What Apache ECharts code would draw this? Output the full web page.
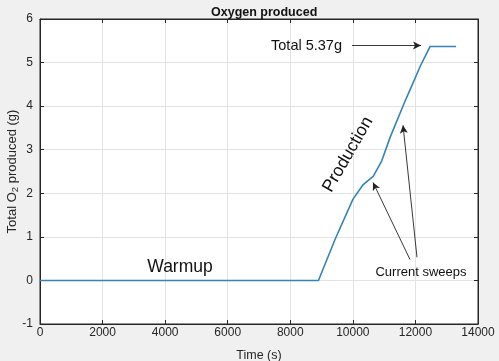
<!DOCTYPE html>
<html>
<head>
<meta charset="utf-8">
<script src="https://cdn.jsdelivr.net/npm/echarts@6/dist/echarts.min.js"></script>
<style>html,body{margin:0;padding:0;background:#f0f0f0;}#c{width:499px;height:361px;}</style>
</head>
<body>
<div id="c"></div>
<script>
var timeS = [0, 8900, 9430, 10000, 10330, 10650, 10920, 11200, 11660, 11830, 12150, 12470, 13300];
var oxygenG = [0, 0, 0.94, 1.86, 2.2, 2.39, 2.74, 3.3, 4.1, 4.38, 4.91, 5.37, 5.37];
var xTicks = [0, 2000, 4000, 6000, 8000, 10000, 12000, 14000];
var yTicks = [-1, 0, 1, 2, 3, 4, 5, 6];

var font = 'Liberation Sans, Arial, sans-serif';
var ink = '#262626';
var chart = echarts.init(document.getElementById('c'));
function axisCommon() {
  return {
    axisLine: {show: true, onZero: false, lineStyle: {color: ink, width: 1}},
    axisTick: {show: true, inside: true, length: 4, lineStyle: {color: ink}}
  };
}
chart.setOption({
  backgroundColor: '#f0f0f0',
  animation: false,
  title: {text: 'Oxygen produced', left: 206, top: 1,
    textStyle: {fontFamily: font, fontSize: 12.5, fontWeight: 'bold', color: '#111'}},
  grid: {left: 40, right: 21, top: 19, bottom: 37, containLabel: false, outerBoundsMode: 'none',
    show: true, backgroundColor: '#fff', borderColor: ink, borderWidth: 1},
  xAxis: [Object.assign(axisCommon(), {type: 'value', min: xTicks[0], max: xTicks[xTicks.length-1], interval: 2000,
    name: 'Time (s)', nameLocation: 'middle', nameGap: 25, nameMoveOverlap: false,
    nameTextStyle: {fontFamily: font, fontSize: 12.5, color: ink},
    axisLabel: {fontFamily: font, fontSize: 12, color: ink, margin: 3, formatter: function (v) { return String(v); }},
    splitLine: {show: true, lineStyle: {color: '#e3e3e3'}}}),
    Object.assign(axisCommon(), {type: 'value', position: 'top', min: 0, max: 14000, interval: 2000,
    axisLabel: {show: false}, splitLine: {show: false}})],
  yAxis: [Object.assign(axisCommon(), {type: 'value', min: yTicks[0], max: yTicks[yTicks.length-1], interval: 1,
    name: '{a|Total O}{s|2}{a| produced (g)}', nameLocation: 'middle', nameGap: 20, nameRotate: 90, nameMoveOverlap: false,
    nameTextStyle: {rich: {a: {fontFamily: font, fontSize: 13, color: ink, lineHeight: 16},
      s: {fontFamily: font, fontSize: 9.5, color: ink, lineHeight: 16, padding: [7, 0, 0, 0]}}},
    axisLabel: {fontFamily: font, fontSize: 12, color: ink, margin: 7, formatter: function (v) { return String(v); }},
    splitLine: {show: true, lineStyle: {color: '#e3e3e3'}}}),
    Object.assign(axisCommon(), {type: 'value', position: 'right', min: -1, max: 6, interval: 1,
    axisLabel: {show: false}, splitLine: {show: false}})],
  series: [{
    type: 'line', xAxisIndex: 0, yAxisIndex: 0,
    data: timeS.map(function (t, i) { return [t, oxygenG[i]]; }),
    showSymbol: false, lineStyle: {color: '#3584b5', width: 1.6},
    markLine: {
      silent: true, symbol: ['none', 'arrow'], symbolSize: [6, 8],
      lineStyle: {color: '#222', width: 0.9, type: 'solid'}, label: {show: false},
      data: [
        [{coord: [9973, 5.39]}, {coord: [12178, 5.39]}],
        [{coord: [11826, 0.48]}, {coord: [10644, 2.25]}],
        [{coord: [12050, 0.53]}, {coord: [11603, 3.56]}]
      ]
    }
  }]
});
function px(x, y) { return chart.convertToPixel({gridIndex: 0}, [x, y]); }
var pTotal = px(9653, 5.39), pWarm = px(4475, 0.3), pCur = px(12178, 0.18), pProd = px(9845, 2.89);
chart.setOption({graphic: [
  {type: 'text', x: pTotal[0], y: pTotal[1], style: {text: 'Total 5.37g', fontFamily: font, fontSize: 14.5, fill: '#111', align: 'right', verticalAlign: 'middle'}},
  {type: 'text', x: pWarm[0], y: pWarm[1], style: {text: 'Warmup', fontFamily: font, fontSize: 17.5, fill: '#111', align: 'center', verticalAlign: 'middle'}},
  {type: 'text', x: pCur[0], y: pCur[1], style: {text: 'Current sweeps', fontFamily: font, fontSize: 13, fill: '#111', align: 'center', verticalAlign: 'middle'}},
  {type: 'text', x: pProd[0], y: pProd[1], rotation: 60 * Math.PI / 180, style: {text: 'Production', fontFamily: font, fontSize: 17.5, fill: '#111', align: 'center', verticalAlign: 'middle'}}
]});
</script>
</body>
</html>
